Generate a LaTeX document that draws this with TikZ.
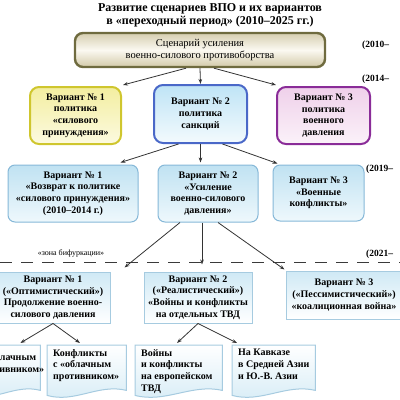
\documentclass[tikz,border=0pt]{standalone}
\usepackage{fontspec}
\setmainfont{Liberation Serif}
\usetikzlibrary{arrows.meta,calc,backgrounds}
\definecolor{olv}{HTML}{6F6B3F}
\definecolor{olvtop}{HTML}{D6CEB0}
\definecolor{olvmid}{HTML}{FBF9F1}
\definecolor{olvbot}{HTML}{D3CAA9}
\definecolor{yline}{HTML}{CFC62E}
\definecolor{ytop}{HTML}{F3EEA0}
\definecolor{ybot}{HTML}{FCFAE0}
\definecolor{bline}{HTML}{4A68C8}
\definecolor{btop}{HTML}{BFE4F6}
\definecolor{bbot}{HTML}{F3FAFD}
\definecolor{pline}{HTML}{8A2C98}
\definecolor{ptop}{HTML}{EFD0EA}
\definecolor{pbot}{HTML}{FBF2F9}
\definecolor{rline}{HTML}{86B8D8}
\definecolor{rtop}{HTML}{C0E2F2}
\definecolor{rbot}{HTML}{EEF8FC}
\definecolor{qline}{HTML}{A6CBE0}
\definecolor{qtop}{HTML}{CFE9F5}
\definecolor{dbot}{HTML}{D6ECF6}
\definecolor{arrc}{HTML}{333333}
\definecolor{dashc}{HTML}{3A3A3A}
\newcommand\myrowfont{\bfseries\fontsize{10}{11.7}\selectfont}
\newcommand\mydoc[1]{%
  \begin{scope}[on background layer]
  \draw[docsty] (#1.north west) -- (#1.north east) -- ($(#1.south east)+(0,-5)$)
    .. controls ($(#1.south east)!0.35!(#1.south west)+(0,-12)$) and ($(#1.south east)!0.65!(#1.south west)+(0,8)$) .. (#1.south west) -- cycle;
  \end{scope}}
\tikzset{
  arr/.style={draw=arrc, line width=0.8pt, -{Stealth[length=5pt,width=3.6pt]}},
  topbox/.style={rounded corners=8pt, draw=olv, line width=2.4pt, top color=olvtop, bottom color=olvbot, middle color=olvmid, align=center, font=\fontsize{10.5}{11.5}\selectfont, inner sep=0pt},
  rtwo/.style={rounded corners=9pt, line width=2pt, align=center, font=\myrowfont, inner sep=0pt},
  rthree/.style={rounded corners=7pt, draw=rline, line width=1pt, top color=rtop, bottom color=rbot, align=center, font=\myrowfont, inner sep=0pt},
  rfour/.style={draw=qline, line width=1pt, top color=qtop, bottom color=white, align=center, font=\myrowfont, inner sep=0pt},
  docsty/.style={draw=qline, line width=1pt, top color=white, bottom color=dbot},
  docbound/.style={anchor=north west, inner sep=0pt, minimum height=50pt},
  doctext/.style={anchor=north west, align=left, font=\myrowfont, inner sep=0pt},
  period/.style={anchor=west, inner sep=0pt, font=\bfseries\fontsize{9.5}{11}\selectfont},
  dashline/.style={draw=dashc, line width=1pt, dash pattern=on 12pt off 9pt},
}
\begin{document}
\begin{tikzpicture}[x=1pt,y=-1pt]
\useasboundingbox (0,0) rectangle (400,400);
\clip (0,0) rectangle (400,400);

\node[align=center, inner sep=0pt, font=\bfseries\fontsize{12}{13}\selectfont] (title) at (210,15) {Развитие сценариев ВПО и их вариантов\\в «переходный период» (2010–2025 гг.)};

\node[topbox, minimum width=250pt, minimum height=34pt] (top) at (200,50) {Сценарий усиления\\военно-силового противоборства};

\node[rtwo, draw=yline, top color=ytop, bottom color=ybot, minimum width=91pt, minimum height=57pt] (r2a) at (75.5,115.5) {Вариант №~1\\политика\\«силового\\принуждения»};
\node[rtwo, draw=bline, top color=btop, bottom color=bbot, minimum width=93pt, minimum height=58pt] (r2b) at (200.5,114) {Вариант №~2\\политика\\санкций};
\node[rtwo, draw=pline, top color=ptop, bottom color=pbot, minimum width=93pt, minimum height=57pt] (r2c) at (323.5,115.5) {Вариант №~3\\политика\\военного\\давления};

\node[rthree, minimum width=130pt, minimum height=57pt] (r3a) at (73,193.5) {Вариант №~1\\«Возврат к политике\\«силового принуждения»\\(2010–2014 г.)};
\node[rthree, minimum width=100pt, minimum height=57pt] (r3b) at (208,193.5) {Вариант №~2\\«Усиление\\военно-силового\\давления»};
\node[rthree, minimum width=91pt, minimum height=56pt] (r3c) at (318.5,193) {Вариант №~3\\«Военные\\конфликты»};

\node[rfour, minimum width=114pt, minimum height=51pt] (r4a) at (53,297.5) {Вариант №~1\\(«Оптимистический»)\\Продолжение военно-\\силового давления};
\node[rfour, minimum width=108pt, minimum height=51pt] (r4b) at (198,297.5) {Вариант №~2\\(«Реалистический»)\\«Войны и конфликты\\на отдельных ТВД};
\node[rfour, minimum width=116pt, minimum height=48pt] (r4c) at (344,295) {Вариант №~3\\(«Пессимистический»)\\«коалиционная война»};

\node[docbound, minimum width=73pt] (r5a) at (-33,345) {};
\node[docbound, minimum width=79pt] (r5b) at (47,345) {};
\node[docbound, minimum width=87pt] (r5c) at (135,345) {};
\node[docbound, minimum width=83pt] (r5d) at (232,345) {};
\mydoc{r5a}\mydoc{r5b}\mydoc{r5c}\mydoc{r5d}
\node[doctext] (t5a) at ($(r5a.north west)+(11,4)$) {\mbox{}\\с «облачным\\противником»};
\node[doctext] (t5b) at ($(r5b.north west)+(6,4)$) {Конфликты\\с «облачным\\противником»};
\node[doctext] (t5c) at ($(r5c.north west)+(6,4)$) {Войны\\и конфликты\\на европейском\\ТВД};
\node[doctext] (t5d) at ($(r5d.north west)+(6,4)$) {На Кавказе\\в Средней Азии\\и Ю.-В. Азии};

\coordinate (dl) at (0,262);
\coordinate (dr) at (400,262);
\draw[dashline] (dl) -- (dr);
\node[inner sep=0pt, font=\fontsize{8}{9}\selectfont] (zona) at (71,253) {«зона бифуркации»};

\node[period] (p1) at (362,45) {(2010–};
\node[period] (p2) at (362,79) {(2014–};
\node[period] (p3) at (366,169) {(2019–};
\node[period] (p4) at (366,254) {(2021–};

\draw[arr] ($(top.south)+(-14,0)$) -- ($(r2a.north east)+(1,-1)$);
\draw[arr] (top.south) -- (r2b.north);
\draw[arr] ($(top.south)+(14,0)$) -- ($(r2c.north west)+(0,-1)$);

\draw[arr] ($(r2b.south)+(-22,0)$) -- ($(r3a.north east)+(-18,-2)$);
\draw[arr] (r2b.south) -- ($(r2b.south |- r3b.north)+(0,-2)$);
\draw[arr] ($(r2b.south)+(22,0)$) -- ($(r3c.north west)+(5,-1)$);

\draw[arr] ($(r3b.south)+(-28,0)$) -- ($(r4a.north east)+(14,-4)$);
\draw[arr] ($(r3b.south)+(-6,0)$) -- ($(r4b.north)+(4,-7)$);
\draw[arr] ($(r3b.south)+(10,0)$) -- ($(r4c.north west)+(-1,-1)$);

\draw[arr] (r4a.south) -- ($(r5a.north east)+(-20,-2)$);
\draw[arr] (r4a.south) -- ($(r5b.north west)+(33,-2)$);
\draw[arr] (r4b.south) -- ($(r5c.north west)+(42,-2)$);
\draw[arr] (r4b.south) -- ($(r5d.north west)+(5,-2)$);
\end{tikzpicture}
\end{document}
